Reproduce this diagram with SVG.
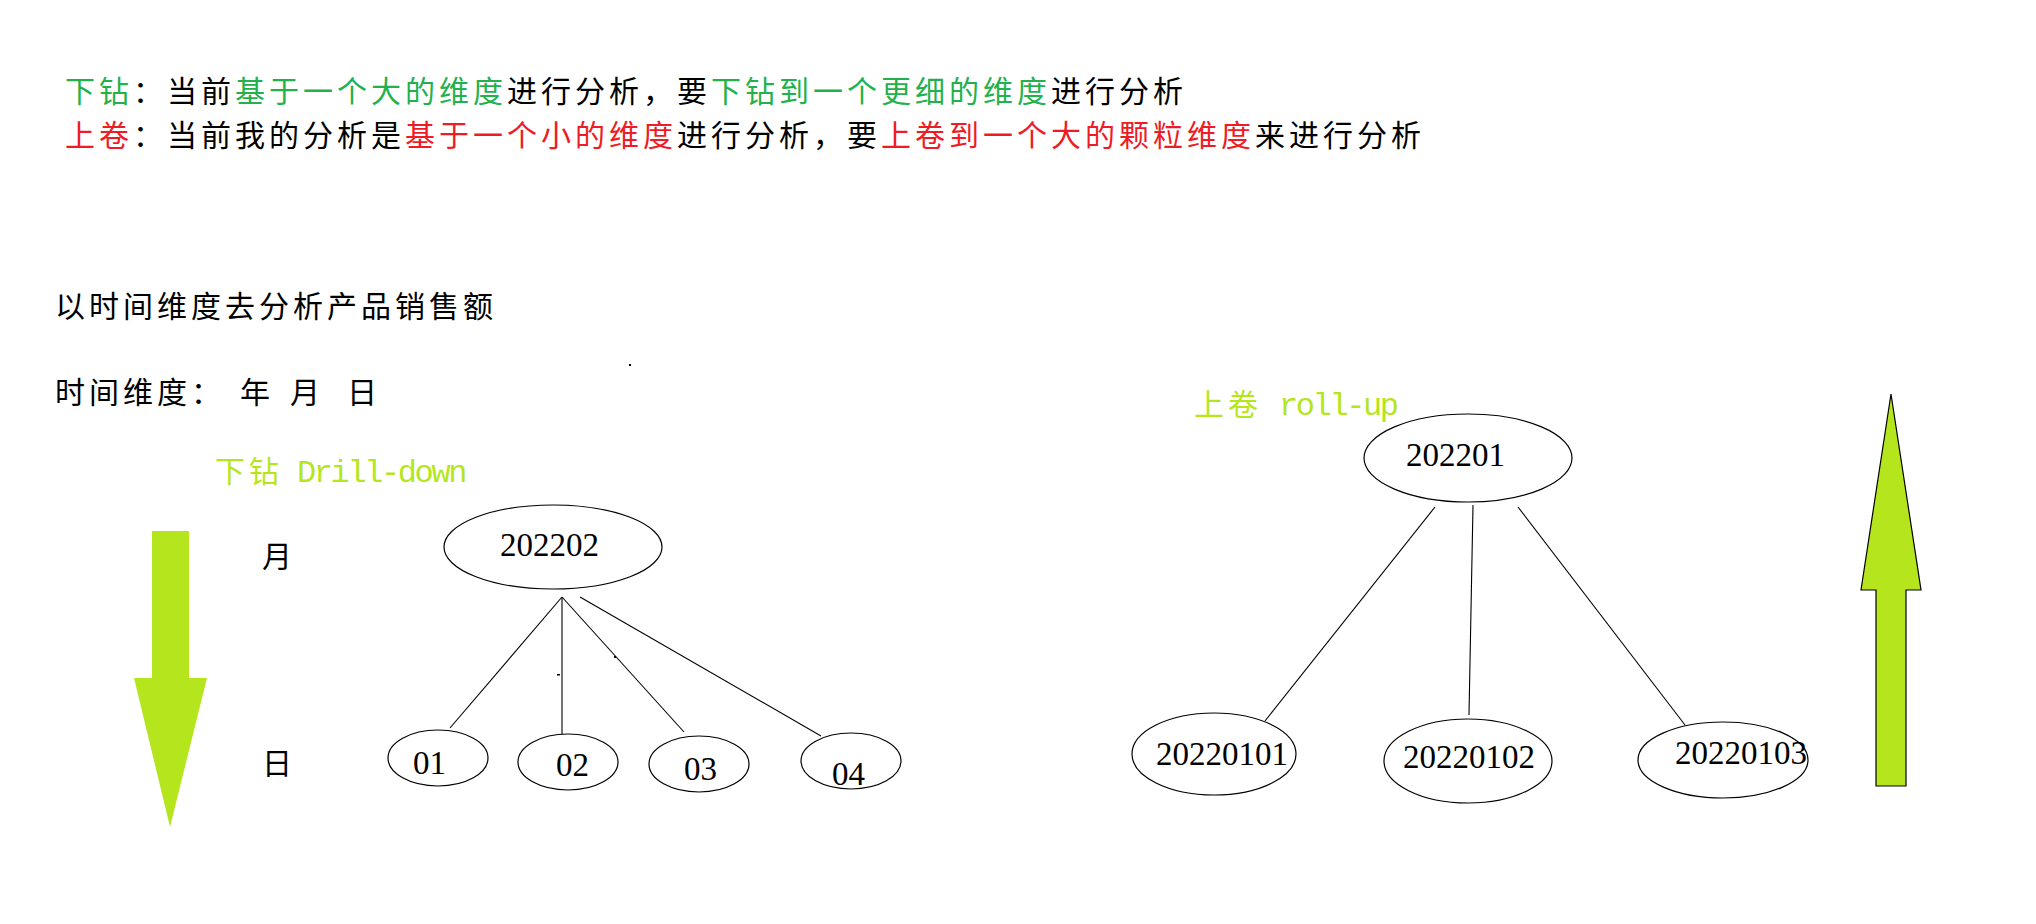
<svg xmlns="http://www.w3.org/2000/svg" width="2036" height="924" viewBox="0 0 2036 924">
<style>
.cjk{font-family:"Noto Sans CJK SC","Noto Sans",sans-serif;font-size:30px;letter-spacing:4px;fill:#000}
.g{fill:#22b14c}
.r{fill:#ee1c24}
.lime{fill:#b5e61d}
.mono{font-family:"Liberation Mono",monospace;font-size:32px;letter-spacing:-2.4px}
.num{font-family:"Liberation Serif",serif;font-size:33px;fill:#000}
.node ellipse{fill:#fff;stroke:#000;stroke-width:1.2}
.conn line{stroke:#000;stroke-width:1.1}
</style>
<rect width="2036" height="924" fill="#fff"/>

<g id="intro">
<text class="cjk" x="65" y="102"><tspan class="g">下钻</tspan>：当前<tspan class="g">基于一个大的维度</tspan>进行分析，要<tspan class="g">下钻到一个更细的维度</tspan>进行分析</text>
<text class="cjk" x="65" y="146"><tspan class="r">上卷</tspan>：当前我的分析是<tspan class="r">基于一个小的维度</tspan>进行分析，要<tspan class="r">上卷到一个大的颗粒维度</tspan>来进行分析</text>
<text class="cjk" x="55" y="317">以时间维度去分析产品销售额</text>
<text class="cjk" x="55" y="403">时间维度：</text>
<text class="cjk" x="240" y="403">年</text>
<text class="cjk" x="290" y="403">月</text>
<text class="cjk" x="347" y="403">日</text>
<rect x="629" y="364" width="2" height="2" fill="#000"/>
</g>

<g id="drill-down-label">
<text class="cjk lime" x="215" y="482">下钻</text>
<text class="mono lime" x="297" y="482">Drill-down</text>
</g>
<g id="drill-down-arrow">
<polygon class="lime" points="152,531 189,531 189,678 207,678 170,827 134,678 152,678"/>
</g>
<g id="level-labels">
<text class="cjk" x="262" y="567">月</text>
<text class="cjk" x="262" y="774">日</text>
</g>

<g id="roll-up-label">
<text class="cjk lime" x="1194" y="415">上卷</text>
<text class="mono lime" x="1279" y="415">roll-up</text>
</g>
<g id="roll-up-arrow">
<polygon class="lime" stroke="#000" stroke-width="1.2" points="1891,394 1921,590 1906,590 1906,786 1876,786 1876,590 1861,590"/>
</g>

<g id="connectors" class="conn">
<line x1="562" y1="597" x2="450" y2="728"/>
<line x1="562" y1="597" x2="562" y2="737"/>
<line x1="562" y1="597" x2="684" y2="732"/>
<line x1="580" y1="597" x2="821" y2="736"/>
<line x1="1435" y1="507" x2="1265" y2="721"/>
<line x1="1473" y1="505" x2="1469" y2="715"/>
<line x1="1518" y1="507" x2="1685" y2="725"/>
<rect x="557" y="674" width="3" height="1.5" fill="#000" stroke="none"/>
<rect x="614" y="656" width="2" height="2" fill="#000" stroke="none"/>
</g>

<g id="n202202" class="node"><ellipse cx="553" cy="547" rx="109" ry="42"/><text class="num" x="500" y="556">202202</text></g>
<g id="n01" class="node"><ellipse cx="438" cy="758" rx="50" ry="28"/><text class="num" x="413" y="774">01</text></g>
<g id="n02" class="node"><ellipse cx="568" cy="762" rx="50" ry="28"/><text class="num" x="556" y="776">02</text></g>
<g id="n03" class="node"><ellipse cx="699" cy="764" rx="50" ry="28"/><text class="num" x="684" y="780">03</text></g>
<g id="n04" class="node"><ellipse cx="851" cy="761" rx="50" ry="28"/><text class="num" x="832" y="785">04</text></g>

<g id="n202201" class="node"><ellipse cx="1468" cy="458" rx="104" ry="44"/><text class="num" x="1406" y="466">202201</text></g>
<g id="n20220101" class="node"><ellipse cx="1214" cy="754" rx="82" ry="41"/><text class="num" x="1156" y="765">20220101</text></g>
<g id="n20220102" class="node"><ellipse cx="1468" cy="761" rx="84" ry="42"/><text class="num" x="1403" y="768">20220102</text></g>
<g id="n20220103" class="node"><ellipse cx="1723" cy="760" rx="85" ry="38"/><text class="num" x="1675" y="764">20220103</text></g>
</svg>
